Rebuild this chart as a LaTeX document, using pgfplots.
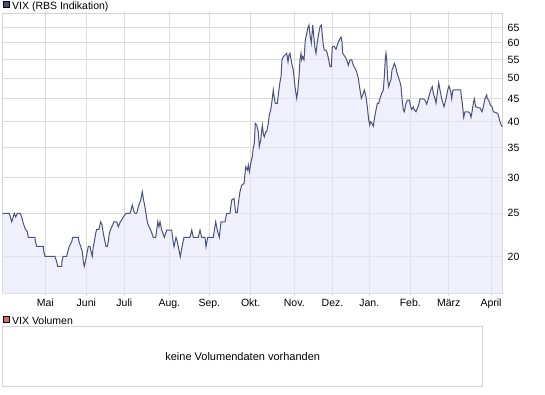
\documentclass[border=0pt]{standalone}
\usepackage{fontspec}
\setmainfont{Liberation Sans}
\usepackage{pgfplots}
\usepackage{pgfplotstable}
\pgfplotsset{compat=1.18}
\definecolor{gridc}{HTML}{DCDCDC}
\definecolor{borderc}{HTML}{D4D4D4}
\definecolor{linec}{HTML}{4A5378}
\definecolor{fillc}{HTML}{E6E6FA}
\definecolor{sqblue}{HTML}{4A5070}
\definecolor{sqred}{HTML}{D46A6A}

\pgfplotstableread{
x y
2.7 24.96
9.3 24.96
11.7 23.9
14.3 24.96
15.7 24.5
17.3 24.96
20 24.96
21.7 24.52
23.3 23.71
25 23.1
27.3 22.7
28.3 22.06
35 22.06
35.5 21.56
36.7 21.06
43.3 21.06
43.8 20.48
45 20.0
55 20.0
56.7 19.46
57.7 19.0
61.7 19.0
62 19.46
63 20.0
66.7 20.0
67.7 20.48
69.3 21.06
71.7 21.56
72.7 22.06
78.3 22.06
79 21.56
80.7 21.06
82.3 20.48
83.3 19.46
84.3 19.0
85.7 19.63
87.3 20.48
88.3 21.06
90 21.06
90.7 20.66
92.3 20.0
93.3 21.06
94.3 21.56
95.7 22.52
96.7 22.99
99 22.99
100.7 23.9
102 23.5
103.3 22.52
105 21.56
106 21.06
107.3 21.06
108.3 21.56
109.3 22.52
111 23.1
112.7 23.5
113.7 23.9
116.7 23.9
118.3 23.29
120.3 23.9
121.7 24.11
123.3 24.5
126 24.96
130 24.96
130.7 25.2
132.3 26.05
134 25.2
135 24.96
136.7 24.96
138.3 25.82
140.7 26.73
142.3 27.9
143.3 26.96
144.3 26.28
145.7 25.2
147.3 23.9
148.3 23.5
150.7 22.9
153.3 22.06
155.7 22.06
156.7 22.9
157.7 23.9
159 23.29
160 23.9
161.7 22.9
164.3 22.06
166.7 22.9
171.7 22.9
172.7 21.94
174 21.02
176 22.06
177.3 21.56
180.3 19.96
182 21.02
184 22.06
190 22.06
191.7 22.9
193.3 22.06
198.3 22.06
200 22.9
201.7 22.06
205 22.06
206 21.02
207.7 22.06
213.3 22.06
215.7 23.9
217.3 22.9
219.3 22.06
221 23.9
225 23.9
226.7 24.96
230 24.96
231.7 26.73
234 26.96
235.7 25.04
237.3 25.04
238.3 26.28
240 27.9
241.7 28.87
244 29.1
245.7 31.7
247.3 31.2
248.3 32.0
249.3 30.9
251 32.5
252.3 33.4
253.3 35.0
254.3 35.8
255.3 39.66
256.7 39.3
258.3 37.99
259.3 35.16
260.7 36.4
262.3 39.3
263.3 37.67
264.3 37.0
265.7 37.99
266.7 37.99
268.3 39.66
269.3 41.4
270.7 42.5
271.7 43.98
272.7 45.9
273.3 47.1
274.3 45.1
275.3 43.98
277.3 43.98
278.7 46.7
280 49.1
281 50.4
282 55.0
283.3 55.9
285 56.4
286.7 56.9
288 54.4
289 56.4
290 56.9
291.7 54.0
293.3 52.2
295 47.9
296.7 45.1
297.7 46.7
299 50.4
300 55.0
301 56.9
301.7 55.0
302.7 55.9
304 55.0
305.3 60.9
306.7 63.0
307.7 64.7
309 65.8
310 62.5
311.3 60.0
312.7 65.8
314 61.4
315 58.4
316 56.9
317.3 60.3
318.7 63.0
320 65.2
321.3 65.8
323.3 59.4
324.3 57.8
326 57.8
327.3 56.9
328.7 55.0
330 53.1
331.3 53.1
332.3 58.8
334 59.0
336 58.1
338 60.0
339.3 60.9
341 61.9
342 60.3
342.7 56.9
345 55.9
346.7 55.0
348.3 53.5
350 55.0
351.7 55.0
353.3 53.5
355 52.65
356.7 51.7
358.3 50.0
360 47.1
361.3 45.1
362.7 45.9
364.3 47.1
366 45.5
367.3 43.2
368.7 40.35
369.7 39.3
370.7 40.0
372 39.66
373.3 39.1
374.7 41.03
376 42.5
377.3 43.98
378.7 43.98
380 45.1
381.7 46.3
383.3 47.1
384.3 50.4
385.3 55.4
386 56.9
386.7 55.0
387.7 49.7
388.7 47.9
390 49.1
391 49.7
392 52.2
393.3 53.1
394.3 54.0
395.7 53.1
396.7 51.7
398.3 50.4
400 49.1
401 47.9
402 45.1
403.3 42.5
404.3 42.1
406 44.0
407.3 44.7
409.3 44.7
410.7 43.2
411.7 42.6
413.3 43.2
414.3 42.5
416 42.1
417.3 42.85
418.7 43.6
420 45.0
423.3 45.0
425 44.7
426.7 43.8
428.3 45.0
430.7 47.1
432.3 47.9
433.3 46.3
435 45.0
436 44.0
437.3 46.3
438.7 48.9
440 47.1
441.7 45.0
444 43.2
446 45.0
447.7 47.1
449 48.1
450.7 46.7
451.7 45.0
452.7 46.9
454 47.1
460.7 47.1
461.3 45.5
462.3 44.0
463.7 40.9
465 42.1
468.3 42.1
470 41.75
471 40.9
472.3 42.5
473.3 44.0
474.3 45.0
475.7 43.2
478.3 42.98
480 42.98
481 42.5
482 42.1
483.3 43.2
485 45.0
486.7 45.9
487.3 45.0
488.7 44.7
490.3 43.6
492 43.2
493.3 42.1
495.3 41.98
497.7 41.75
498.7 41.03
500 40.0
501.3 39.3
502.3 38.97
}\vix

\begin{document}
\begin{tikzpicture}[x=1pt,y=1pt]
\path[use as bounding box] (0pt,0pt) rectangle (545pt,-395pt);
% legend / title of price panel
\draw[fill=sqblue, draw=black, line width=0.8pt] (3.2pt,-1.8pt) rectangle (9.2pt,-7.8pt);
\node[anchor=base west, inner sep=0pt, font=\fontsize{10.5}{12}\selectfont] at (12pt,-10pt) {VIX (RBS Indikation)};
\begin{axis}[
  at={(2.7pt,-13.3pt)}, anchor=north west,
  width=500pt, height=280pt, scale only axis,
  xmin=2.7, xmax=502.7,
  ymode=log, ymin=16.54, ymax=69.9,
  xtick={45.3,86.3,124.3,169.3,209.3,250.7,294.3,332.5,369.3,410.3,448.7,491},
  xticklabels={Mai,Juni,Juli,Aug.,Sep.,Okt.,Nov.,Dez.,Jan.,Feb.,März,April},
  ytick={20,25,30,35,40,45,50,55,60,65},
  yticklabels={20,25,30,35,40,45,50,55,60,65},
  yticklabel pos=right,
  grid=major,
  major grid style={gridc, line width=1pt},
  axis line style={borderc, line width=1pt},
  ytick style={draw=none},
  xtick style={gridc, line width=1pt},
  tick align=outside,
  major tick length=2.5pt,
  ticklabel style={font=\fontsize{10.5}{12}\selectfont},
  yticklabel style={anchor=west, xshift=-1pt},
  xticklabel style={yshift=0pt},
  clip=true,
]
\addplot[draw=none, fill=fillc, fill opacity=0.6] table[x=x,y=y] {\vix} \closedcycle;
\addplot[linec, line width=1pt, mark=none] table[x=x,y=y] {\vix};
\end{axis}
% volume panel
\draw[fill=sqred, draw=black, line width=0.8pt] (3.2pt,-316.2pt) rectangle (9.2pt,-322.2pt);
\node[anchor=base west, inner sep=0pt, font=\fontsize{10.5}{12}\selectfont] at (12pt,-324.5pt) {VIX Volumen};
\begin{axis}[
  at={(2.7pt,-326.3pt)}, anchor=north west,
  width=480pt, height=60pt, scale only axis,
  xmin=0, xmax=1, ymin=0, ymax=1,
  xtick=\empty, ytick=\empty,
  axis line style={borderc, line width=1pt},
]
\node[font=\fontsize{11}{13}\selectfont] at (axis cs:0.5,0.5) {keine Volumendaten vorhanden};
\end{axis}
\end{tikzpicture}
\end{document}
